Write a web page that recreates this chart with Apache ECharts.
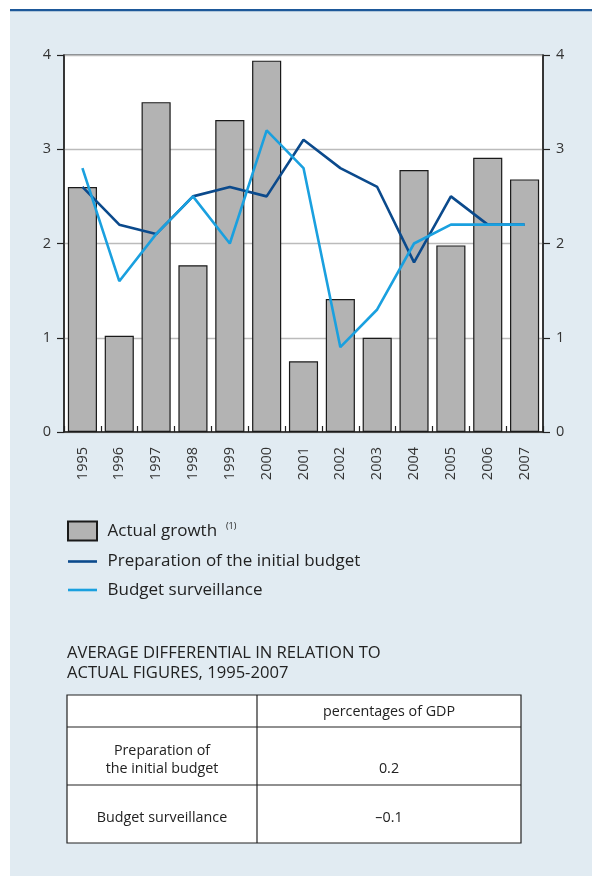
<!DOCTYPE html>
<html>
<head>
<meta charset="utf-8">
<script src="https://cdn.jsdelivr.net/npm/echarts@6/dist/echarts.min.js"></script>
<style>
  html, body { margin: 0; padding: 0; background: #ffffff; }
  #chart { width: 592px; height: 876px; }
</style>
</head>
<body>
<div id="chart"></div>
<script>
// Budget forecasts vs actual growth, 1995-2007
const years = ['1995', '1996', '1997', '1998', '1999', '2000', '2001', '2002', '2003', '2004', '2005', '2006', '2007'];
const actualGrowth = [2.60, 1.02, 3.50, 1.77, 3.31, 3.94, 0.75, 1.41, 1.00, 2.78, 1.98, 2.91, 2.68];
const initialBudget = [2.6, 2.2, 2.1, 2.5, 2.6, 2.5, 3.1, 2.8, 2.6, 1.8, 2.5, 2.2, 2.2];
const surveillance = [2.8, 1.6, 2.1, 2.5, 2.0, 3.2, 2.8, 0.9, 1.3, 2.0, 2.2, 2.2, 2.2];
const yMin = 0, yMax = 4, yStep = 1;

const seriesNames = ['Actual growth', 'Preparation of the initial budget', 'Budget surveillance'];

const tableTitle = ['AVERAGE DIFFERENTIAL IN RELATION TO', 'ACTUAL FIGURES, 1995-2007'];
const tableHeader = ['', 'percentages of GDP'];
const tableLabels = [['Preparation of', 'the initial budget'], ['Budget surveillance']];
const tableValues = ['0.2', '\u20130.1'];

const FONT = '"Open Sans", "Noto Sans", sans-serif';
const INK = '#222222';
const DARK_BLUE = '#0b4a8c';
const LIGHT_BLUE = '#1aa0df';
const LINE_ICON = 'path://M0,0H29V2.6H0Z';

const chart = echarts.init(document.getElementById('chart'), null, { renderer: 'canvas' });

// Summary table drawn below the chart
function buildTable() {
  const x0 = 67, x1 = 257, x2 = 521;
  const rowY = [695, 727, 785, 843];
  const els = [];
  els.push({
    type: 'rect', shape: { x: x0, y: rowY[0], width: x2 - x0, height: rowY[3] - rowY[0] },
    style: { fill: '#ffffff', stroke: INK, lineWidth: 1.2 }
  });
  els.push({ type: 'line', shape: { x1: x1, y1: rowY[0], x2: x1, y2: rowY[3] }, style: { stroke: INK, lineWidth: 1.2 } });
  els.push({ type: 'line', shape: { x1: x0, y1: rowY[1], x2: x2, y2: rowY[1] }, style: { stroke: INK, lineWidth: 1.2 } });
  els.push({ type: 'line', shape: { x1: x0, y1: rowY[2], x2: x2, y2: rowY[2] }, style: { stroke: INK, lineWidth: 1.2 } });

  const txt = (text, x, y, size, align) => ({
    type: 'text',
    style: {
      text: text, x: x, y: y, fill: INK, font: size + 'px ' + FONT,
      align: align, textAlign: align, verticalAlign: 'middle', textVerticalAlign: 'middle'
    }
  });
  // title
  els.push(txt(tableTitle[0], x0, 653, 16.6, 'left'));
  els.push(txt(tableTitle[1], x0, 673, 16.6, 'left'));
  // header
  const c1 = (x0 + x1) / 2, c2 = (x1 + x2) / 2;
  els.push(txt(tableHeader[1], c2, 712, 14.3, 'center'));
  // row 1
  els.push(txt(tableLabels[0][0], c1, 750.5, 14.3, 'center'));
  els.push(txt(tableLabels[0][1], c1, 768.5, 14.3, 'center'));
  els.push(txt(tableValues[0], c2, 768.5, 14.3, 'center'));
  // row 2
  els.push(txt(tableLabels[1][0], c1, 817.5, 14.3, 'center'));
  els.push(txt(tableValues[1], c2, 817.5, 14.3, 'center'));
  return els;
}

const frame = [
  { type: 'rect', shape: { x: 0, y: 0, width: 592, height: 9 }, style: { fill: '#ffffff' } },
  { type: 'rect', shape: { x: 0, y: 0, width: 10, height: 876 }, style: { fill: '#ffffff' } },
  { type: 'rect', shape: { x: 10, y: 9, width: 582, height: 2.2 }, style: { fill: '#1d5899' } }
];

const option = {
  backgroundColor: '#e1ebf2',
  animation: false,
  textStyle: { fontFamily: FONT },
  grid: {
    left: 64, right: 49, top: 55, bottom: 444,
    show: true, backgroundColor: '#ffffff', borderColor: INK, borderWidth: 1.2,
    containLabel: false
  },
  legend: {
    orient: 'vertical', left: 67, top: 520.5, padding: 0,
    itemWidth: 29, itemHeight: 19, itemGap: 11.5,
    symbolKeepAspect: true,
    data: [
      { name: seriesNames[0], icon: 'rect' },
      { name: seriesNames[1], icon: LINE_ICON },
      { name: seriesNames[2], icon: LINE_ICON }
    ],
    formatter: function (name) {
      return name === seriesNames[0] ? '{t|' + name + '}  {s|(1)}' : '{t|' + name + '}';
    },
    textStyle: {
      color: INK, fontSize: 17, fontFamily: FONT, padding: [0, 0, 0, 5.5],
      rich: {
        t: { fontSize: 17, fontFamily: FONT, color: INK },
        s: { fontSize: 9, fontFamily: FONT, color: INK, verticalAlign: 'top', padding: [0, 0, 9, 0] }
      }
    }
  },
  xAxis: {
    type: 'category', data: years,
    axisLine: { show: true, lineStyle: { color: INK, width: 1.5 } },
    axisTick: { show: true, inside: true, length: 6, alignWithLabel: false, lineStyle: { color: INK, width: 1.2 } },
    axisLabel: { rotate: 90, margin: 15, color: '#333333', fontSize: 14.5, fontFamily: FONT },
    splitLine: { show: false }
  },
  yAxis: [
    {
      type: 'value', min: yMin, max: yMax, interval: yStep, position: 'left',
      axisLine: { show: true, lineStyle: { color: INK, width: 1.5 } },
      axisTick: { show: true, inside: false, length: 7, lineStyle: { color: INK, width: 1.2 } },
      axisLabel: { margin: 13, color: '#333333', fontSize: 14.5, fontFamily: FONT },
      splitLine: { show: true, lineStyle: { color: '#bbbbbb', width: 1.3 } }
    },
    {
      type: 'value', min: yMin, max: yMax, interval: yStep, position: 'right',
      axisLine: { show: true, lineStyle: { color: INK, width: 1.5 } },
      axisTick: { show: true, inside: false, length: 7, lineStyle: { color: INK, width: 1.2 } },
      axisLabel: { margin: 13, color: '#333333', fontSize: 14.5, fontFamily: FONT },
      splitLine: { show: false }
    }
  ],
  series: [
    {
      name: seriesNames[0], type: 'bar', data: actualGrowth, yAxisIndex: 0,
      barCategoryGap: '21%',
      itemStyle: { color: '#b3b3b3', borderColor: '#1a1a1a', borderWidth: 1.2 }
    },
    {
      name: seriesNames[1], type: 'line', data: initialBudget, yAxisIndex: 0,
      symbol: 'none', lineStyle: { color: DARK_BLUE, width: 2.6 }, itemStyle: { color: DARK_BLUE }
    },
    {
      name: seriesNames[2], type: 'line', data: surveillance, yAxisIndex: 0,
      symbol: 'none', lineStyle: { color: LIGHT_BLUE, width: 2.6 }, itemStyle: { color: LIGHT_BLUE }
    }
  ],
  graphic: { elements: frame.concat(buildTable()) }
};

chart.setOption(option);
</script>
</body>
</html>
